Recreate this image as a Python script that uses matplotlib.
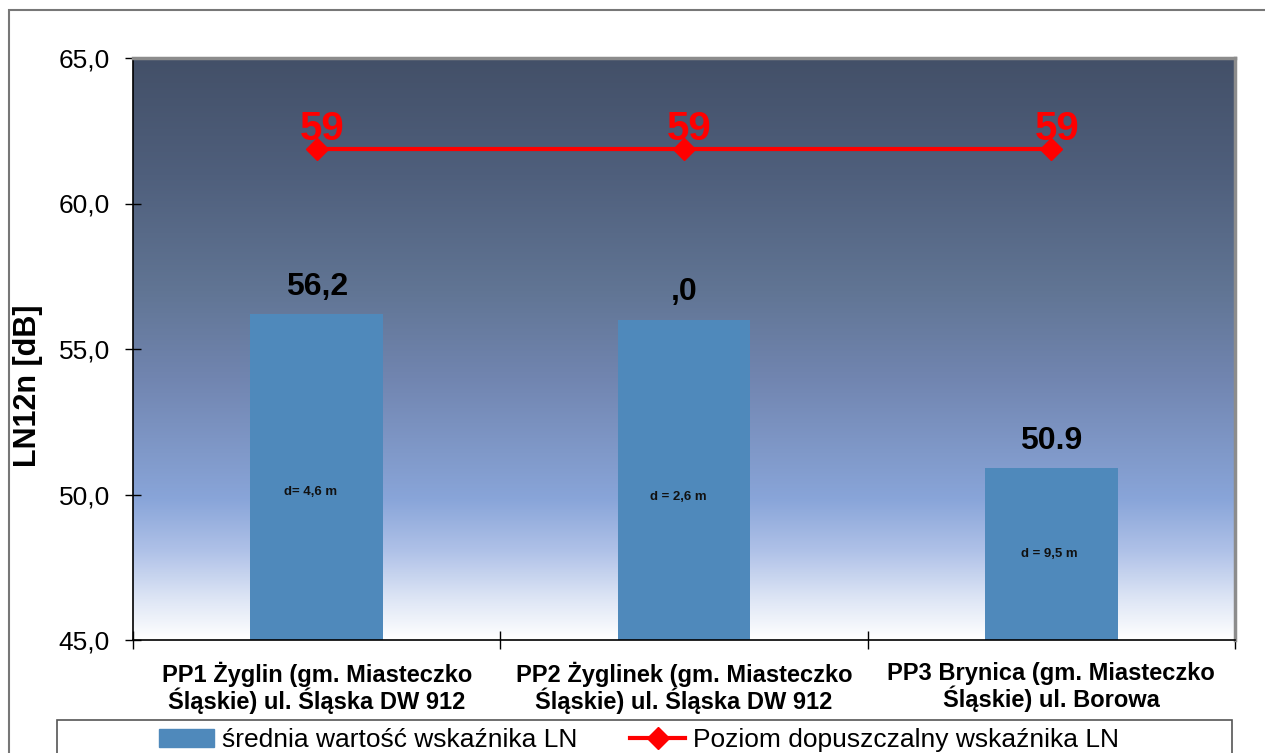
import matplotlib
matplotlib.use("Agg")
import matplotlib.pyplot as plt
import numpy as np
from matplotlib.colors import LinearSegmentedColormap
from matplotlib.patches import Rectangle
from matplotlib.lines import Line2D

plt.rcParams['font.family'] = ['Liberation Sans', 'DejaVu Sans']

# ---- data ----
categories = [
    "PP1 Żyglin (gm. Miasteczko\nŚląskie) ul. Śląska DW 912",
    "PP2 Żyglinek (gm. Miasteczko\nŚląskie) ul. Śląska DW 912",
    "PP3 Brynica (gm. Miasteczko\nŚląskie) ul. Borowa",
]
mean_ln = [56.2, 56.0, 50.9]
mean_ln_labels = ["56,2", ",0", "50.9"]
distance_labels = ["d= 4,6 m", "d = 2,6 m", "d = 9,5 m"]
limit_ln = [59, 59, 59]
y_ticks = [45, 50, 55, 60, 65]
legend_labels = ["średnia wartość wskaźnika LN", "Poziom dopuszczalny wskaźnika LN"]

W, H = 1265, 753
fig = plt.figure(figsize=(W / 100, H / 100), dpi=100)
fig.patch.set_facecolor("white")

ax = fig.add_axes([133 / W, 1 - 640 / H, (1235 - 133) / W, (640 - 58) / H])
ax.set_xlim(-0.5, 2.5)
ax.set_ylim(45, 65)

# gradient plot-area background (dark slate at top, blue, fading to white)
grad = LinearSegmentedColormap.from_list("bg", [
    (0.00, "#ffffff"),
    (0.07, "#dde5f5"),
    (0.15, "#b0c2e8"),
    (0.24, "#89a5d9"),
    (0.32, "#8099c9"),
    (0.45, "#7185b0"),
    (0.60, "#617594"),
    (0.80, "#4f5f7c"),
    (1.00, "#435068"),
])
g = np.linspace(0, 1, 512).reshape(-1, 1)
ax.imshow(g, cmap=grad, origin="lower", aspect="auto",
          extent=(-0.5, 2.5, 45, 65), zorder=0, interpolation="bicubic")

x = np.arange(len(categories))
bars = ax.bar(x, mean_ln, width=0.362, color="#4f89bb", zorder=2)

for xi, v, lab in zip(x, mean_ln, mean_ln_labels):
    ax.annotate(lab, (xi, v), xytext=(0, 14), textcoords="offset points",
                ha="center", va="baseline", fontsize=23, fontweight="bold",
                color="black", zorder=5)

d_pos = [50.07, 49.93, 47.95]
d_dx = [-6, -6, -2]
for xi, yy, dx, lab in zip(x, d_pos, d_dx, distance_labels):
    ax.annotate(lab, (xi, yy), xytext=(dx * 0.72, 0), textcoords="offset points",
                ha="center", va="center", fontsize=9.5, fontweight="bold",
                color="#111111", zorder=5)

# axes styling
ax.set_yticks(y_ticks)
ax.set_yticklabels([f"{t:.1f}".replace(".", ",") for t in y_ticks], fontsize=19)
ax.tick_params(axis="y", direction="inout", length=11, width=1, pad=11)

ax.set_xticks([-0.5, 0.5, 1.5, 2.5])
ax.set_xticklabels([])
ax.set_xticks(x, minor=True)
ax.set_xticklabels(categories, minor=True, fontsize=17, fontweight="bold",
                   linespacing=1.0)
ax.tick_params(axis="x", which="major", direction="inout", length=13, width=1)
ax.tick_params(axis="x", which="minor", length=0, pad=16)

for s in ("left", "bottom"):
    ax.spines[s].set_color("black")
    ax.spines[s].set_linewidth(1.2)
for s in ("top", "right"):
    ax.spines[s].set_color("#8c8c8c")
    ax.spines[s].set_linewidth(2.5)

# permissible level on a secondary (hidden) value axis
ax2 = ax.twinx()
ax2.set_ylim(0, 70)
ax2.axis("off")
ax2.plot(x, limit_ln, color="#ff0000", lw=3, marker="D", markersize=11,
         zorder=4)
for xi, v in zip(x, limit_ln):
    ax2.annotate(f"{v}", (xi, v), xytext=(4, 7), textcoords="offset points",
                 ha="center", va="baseline", fontsize=29, fontweight="bold",
                 color="#ff0000")

fig.text(28 / W, 1 - 386 / H, "LN12n [dB]", rotation=90, ha="center",
         va="center", fontsize=22, fontweight="bold")

# outer chart frame and legend box
fig.add_artist(Rectangle((9 / W, -0.05), 1.2, 1 - 10 / H + 0.05,
                         transform=fig.transFigure, fill=False,
                         edgecolor="#777777", lw=1.5))
fig.add_artist(Rectangle((57 / W, -0.05), (1232 - 57) / W, 0.05 + 1 - 720 / H,
                         transform=fig.transFigure, fill=False,
                         edgecolor="#555555", lw=1.2))

handles = [Rectangle((0, 0), 1, 1, color="#4f89bb"),
           Line2D([], [], color="#ff0000", lw=3, marker="D", markersize=11)]
fig.legend(handles, legend_labels, loc="center",
           bbox_to_anchor=(639 / W, 1 - 740 / H), ncol=2, frameon=False,
           fontsize=19, handlelength=2.1, handletextpad=0.3,
           columnspacing=2.0, borderaxespad=0, borderpad=0)

fig.savefig("out.png", dpi=100)
